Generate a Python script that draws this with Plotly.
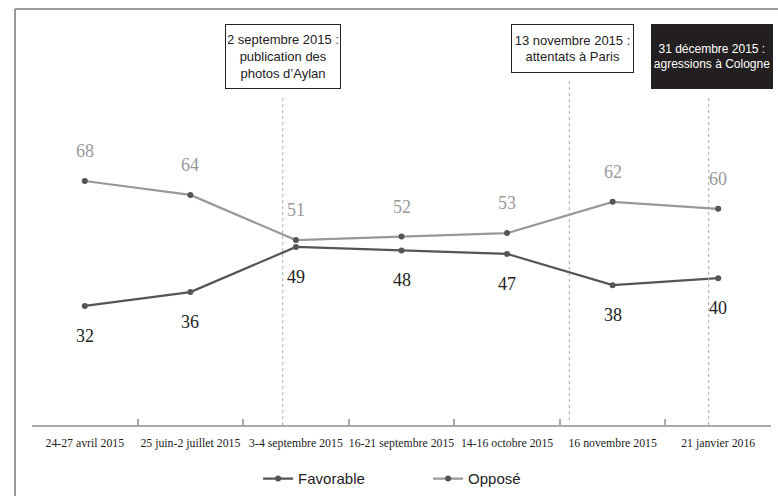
import plotly.graph_objects as go

categories = ["24-27 avril 2015", "25 juin-2 juillet 2015", "3-4 septembre 2015",
              "16-21 septembre 2015", "14-16 octobre 2015", "16 novembre 2015", "21 janvier 2016"]
favorable = [32, 36, 49, 48, 47, 38, 40]
oppose = [68, 64, 51, 52, 53, 62, 60]

events = ["2 septembre 2015 :<br>publication des<br>photos d’Aylan",
          "13 novembre 2015 :<br>attentats à Paris",
          "31 décembre 2015 :<br>agressions à Cologne"]
event_pos = [1.875, 4.59, 5.91]

COND = "Liberation Sans, Arial, sans-serif"
SERIF = "Liberation Serif, DejaVu Serif, serif"

fig = go.Figure()
fig.add_trace(go.Scatter(x=categories, y=favorable, name="Favorable", mode="lines+markers",
                         line=dict(color="#555555", width=2.2),
                         marker=dict(color="#555555", size=6)))
fig.add_trace(go.Scatter(x=categories, y=oppose, name="Opposé", mode="lines+markers",
                         line=dict(color="#999999", width=2.2),
                         marker=dict(color="#555555", size=6)))

annotations = []
for c, v in zip(categories, favorable):
    annotations.append(dict(x=c, y=v, text=str(v), showarrow=False, yshift=-30,
                            font=dict(family=SERIF, size=18, color="#222222")))
for c, v in zip(categories, oppose):
    annotations.append(dict(x=c, y=v, text=str(v), showarrow=False, yshift=30,
                            font=dict(family=SERIF, size=18, color="#999999")))

# event boxes
box_specs = [
    dict(x=0.3397, width=110, height=59, bg="white", fc="#222222", fs=13),
    dict(x=0.731, width=117, height=43, bg="white", fc="#222222", fs=13),
    dict(x=0.920, width=116, height=59, bg="#231f20", fc="white", fs=12),
]
for txt, b in zip(events, box_specs):
    annotations.append(dict(xref="paper", yref="paper", x=b["x"], y=0.99, xanchor="center",
                            yanchor="top", text=txt, showarrow=False, width=b["width"],
                            height=b["height"], bgcolor=b["bg"], bordercolor="#222222",
                            borderwidth=1, borderpad=2,
                            font=dict(family=COND, size=b["fs"], color=b["fc"])))

shapes = []
line_tops = [0.815, 0.857, 0.81]
line_bottoms = [0.0, 0.012, 0.0]
for xp, yt, yb in zip(event_pos, line_tops, line_bottoms):
    shapes.append(dict(type="line", xref="x", yref="paper", x0=xp, x1=xp, y0=yb, y1=yt,
                       line=dict(color="#aaaaaa", width=1, dash="dot")))

# outer frame (left and top)
shapes.append(dict(type="line", xref="paper", yref="paper", x0=-0.0230, x1=-0.0230,
                   y0=-0.2, y1=1.0272, line=dict(color="#999999", width=2)))
shapes.append(dict(type="line", xref="paper", yref="paper", x0=-0.0230, x1=1.02,
                   y0=1.0272, y1=1.0272, line=dict(color="#999999", width=2)))

fig.update_layout(
    width=778, height=496,
    margin=dict(l=32, r=7, t=20, b=71, autoexpand=False),
    paper_bgcolor="white", plot_bgcolor="white",
    showlegend=True,
    legend=dict(orientation="h", x=0.536, y=-0.133, xanchor="center", yanchor="middle",
                font=dict(family=COND, size=15, color="#222222"), entrywidth=125,
                itemwidth=30),
    annotations=annotations,
    shapes=shapes,
)
fig.update_xaxes(type="category", range=[-0.5, 6.5], showgrid=False, showline=True,
                 linecolor="#aaaaaa", linewidth=1.5, ticks="inside", tickson="boundaries",
                 ticklen=6, tickcolor="#aaaaaa", tickwidth=1.5, tickangle=0,
                 automargin=False,
                 tickfont=dict(family=SERIF, size=11.8, color="#222222"),
                 ticklabelstandoff=6)
fig.update_yaxes(range=[-2.3, 114.4], showgrid=False, showline=False, showticklabels=False,
                 zeroline=False, ticks="", automargin=False)

fig.write_html("out.html", config={"displayModeBar": False},
               post_script="document.body.style.margin='0';document.body.style.overflow='hidden';")
